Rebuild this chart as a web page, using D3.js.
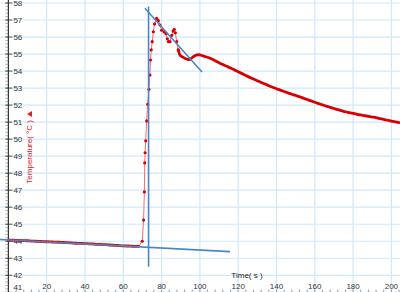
<!DOCTYPE html>
<html>
<head>
<meta charset="utf-8">
<script src="https://cdn.jsdelivr.net/npm/d3@7"></script>
<style>
  body { margin: 0; background: #fff; }
  svg { display: block; font-family: "Liberation Sans", Arial, sans-serif; }
</style>
</head>
<body>
<script>
// time (s) and temperature (°C) readings
var times = [
  0, 2, 4, 6, 8, 10, 12, 14, 16, 18, 20, 22, 24, 26, 28, 30, 32, 34, 36, 38,
  40, 42, 44, 46, 48, 50, 52, 54, 56, 58, 60, 62, 64, 66, 68,
  69.9, 70.6, 71.0, 71.2, 71.4, 71.7, 72.2, 72.7, 73.4, 73.9, 74.2, 74.6, 75.1, 75.7, 76.3,
  77.4, 78.3, 79.2, 80.0, 81.3, 82.3, 83.0, 83.6, 84.4, 85.3, 86.0, 86.6, 87.2, 87.9, 88.7,
  89.6, 90.6, 91.6, 92.6, 93.6, 94.6, 95.6, 96.6, 97.6, 98.6, 99.6, 100.6,
  102, 104, 106, 108, 110, 112, 114, 116, 118, 120, 122, 124, 126, 128, 130, 132, 134, 136,
  138, 140, 142, 144, 146, 148, 150, 152, 154, 156, 158, 160, 162, 164, 166, 168, 170, 172,
  174, 176, 178, 180, 182, 184, 186, 188, 190, 192, 194, 196, 198, 200, 202, 204
];
var temps = [
  44.07, 44.06, 44.05, 44.04, 44.04, 44.03, 44.01, 44.00, 43.99, 43.98, 43.97, 43.96, 43.95, 43.94,
  43.93, 43.92, 43.91, 43.89, 43.88, 43.87, 43.86, 43.85, 43.84, 43.82, 43.81, 43.80, 43.79, 43.77,
  43.76, 43.74, 43.73, 43.72, 43.71, 43.70, 43.70,
  44.0, 45.25, 46.9, 48.6, 49.2, 49.9, 51.07, 52.05, 52.93, 53.77, 54.65, 55.24, 55.73, 56.31, 56.77,
  57.1, 56.96, 56.7, 56.4, 56.3, 56.2, 55.9, 55.73, 55.73, 56.1, 56.35, 56.45, 56.25, 55.73, 55.24,
  54.94, 54.85, 54.79, 54.72, 54.69, 54.68, 54.76, 54.85, 54.92, 54.95, 54.96, 54.93,
  54.88, 54.81, 54.72, 54.61, 54.49, 54.38, 54.28, 54.18, 54.07, 53.96, 53.85, 53.74, 53.63, 53.53,
  53.43, 53.33, 53.24, 53.14, 53.05, 52.96, 52.88, 52.80, 52.72, 52.64, 52.57, 52.49, 52.41, 52.33,
  52.25, 52.17, 52.09, 52.01, 51.94, 51.87, 51.80, 51.73, 51.67, 51.61, 51.56, 51.51, 51.46, 51.42,
  51.38, 51.34, 51.30, 51.26, 51.21, 51.16, 51.11, 51.06, 51.01, 50.97
];

// tangent lines drawn over the data: [t1, T1, t2, T2]
var tangents = [
  [-4.4, 44.10, 115.7, 43.39],
  [73.2, 57.8, 73.2, 42.5],
  [71.3, 57.69, 101.1, 53.95]
];

var xTicks = [20, 40, 60, 80, 100, 120, 140, 160, 180, 200];
var yTicks = [41, 42, 43, 44, 45, 46, 47, 48, 49, 50, 51, 52, 53, 54, 55, 56, 57, 58];

var width = 400, height = 292;

var x = d3.scaleLinear().domain([0, 204.5]).range([8.4, 400]);
var y = d3.scaleLinear().domain([41, 58]).range([292.3, 3]);

var svg = d3.select('body').append('svg')
    .attr('width', width)
    .attr('height', height);

// grid
svg.append('g').selectAll('line')
    .data(yTicks)
  .enter().append('line')
    .attr('x1', 0).attr('x2', width)
    .attr('y1', function(d) { return y(d); })
    .attr('y2', function(d) { return y(d); })
    .attr('stroke', '#cfe8fb')
    .attr('stroke-width', 1.2);

svg.append('g').selectAll('line')
    .data(xTicks)
  .enter().append('line')
    .attr('y1', 0).attr('y2', height)
    .attr('x1', function(d) { return x(d); })
    .attr('x2', function(d) { return x(d); })
    .attr('stroke', '#cfe8fb')
    .attr('stroke-width', 1.2);

// y axis line + ticks
svg.append('line')
    .attr('x1', x(0)).attr('x2', x(0))
    .attr('y1', 0).attr('y2', height)
    .attr('stroke', '#333').attr('stroke-width', 1.2);

var yMinor = d3.range(205, 291).map(function(d) { return d / 5; });
svg.append('g').selectAll('line')
    .data(yMinor)
  .enter().append('line')
    .attr('x1', x(0) - 3).attr('x2', x(0))
    .attr('y1', function(d) { return y(d); })
    .attr('y2', function(d) { return y(d); })
    .attr('stroke', '#777').attr('stroke-width', 0.6);

svg.append('g').selectAll('line')
    .data(yTicks)
  .enter().append('line')
    .attr('x1', x(0) - 3).attr('x2', x(0) + 4)
    .attr('y1', function(d) { return y(d); })
    .attr('y2', function(d) { return y(d); })
    .attr('stroke', '#333').attr('stroke-width', 0.8);

svg.append('g').selectAll('text')
    .data(yTicks)
  .enter().append('text')
    .attr('x', x(0) + 5)
    .attr('y', function(d) { return Math.min(y(d), 287); })
    .attr('dy', '0.35em')
    .attr('font-size', 8)
    .attr('fill', '#333')
    .text(function(d) { return d; });

// x axis ticks at bottom
var xMinor = d3.range(1, 52).map(function(d) { return d * 4; });
svg.append('g').selectAll('line')
    .data(xMinor)
  .enter().append('line')
    .attr('x1', function(d) { return x(d); })
    .attr('x2', function(d) { return x(d); })
    .attr('y1', height - 2.5).attr('y2', height)
    .attr('stroke', '#777').attr('stroke-width', 0.7);

svg.append('g').selectAll('text')
    .data(xTicks)
  .enter().append('text')
    .attr('x', function(d) { return x(d); })
    .attr('y', 289)
    .attr('text-anchor', 'middle')
    .attr('font-size', 8)
    .attr('fill', '#333')
    .text(function(d) { return d; });

// axis titles
svg.append('text')
    .attr('x', 247).attr('y', 278)
    .attr('text-anchor', 'middle')
    .attr('font-size', 8)
    .attr('fill', '#222')
    .text('Time( s )');

svg.append('text')
    .attr('transform', 'translate(32,120) rotate(-90)')
    .attr('text-anchor', 'end')
    .attr('font-size', 8)
    .attr('fill', '#e02020')
    .text('Temperature( °C )');

svg.append('path')
    .attr('d', 'M27,114 L32,111 L32,117 Z')
    .attr('fill', '#e02020');

// data
var pts = times.map(function(t, i) { return [t, temps[i]]; });
var line = d3.line()
    .x(function(d) { return x(d[0]); })
    .y(function(d) { return y(d[1]); });

// thin connecting line across the whole run
svg.append('path')
    .datum(pts)
    .attr('fill', 'none')
    .attr('stroke', '#f07070')
    .attr('stroke-width', 1)
    .attr('d', line);

// densely sampled stretches show as a solid thick trace
var slow = [
  pts.filter(function(d) { return d[0] <= 68; }),
  pts.filter(function(d) { return d[0] >= 88.7; })
];
svg.append('g').selectAll('path')
    .data(slow)
  .enter().append('path')
    .attr('fill', 'none')
    .attr('stroke', '#d80000')
    .attr('stroke-width', 2.8)
    .attr('stroke-linejoin', 'round')
    .attr('stroke-linecap', 'round')
    .attr('d', line.curve(d3.curveMonotoneX));

svg.append('g').selectAll('circle')
    .data(pts.filter(function(d) { return d[0] > 68 && d[0] < 89; }))
  .enter().append('circle')
    .attr('cx', function(d) { return x(d[0]); })
    .attr('cy', function(d) { return y(d[1]); })
    .attr('r', 1.6)
    .attr('fill', '#d80000');

// tangents
svg.append('g').selectAll('line')
    .data(tangents)
  .enter().append('line')
    .attr('x1', function(d) { return x(d[0]); })
    .attr('y1', function(d) { return y(d[1]); })
    .attr('x2', function(d) { return x(d[2]); })
    .attr('y2', function(d) { return y(d[3]); })
    .attr('stroke', '#4a86c4')
    .attr('stroke-width', 1.6);
</script>
</body>
</html>
